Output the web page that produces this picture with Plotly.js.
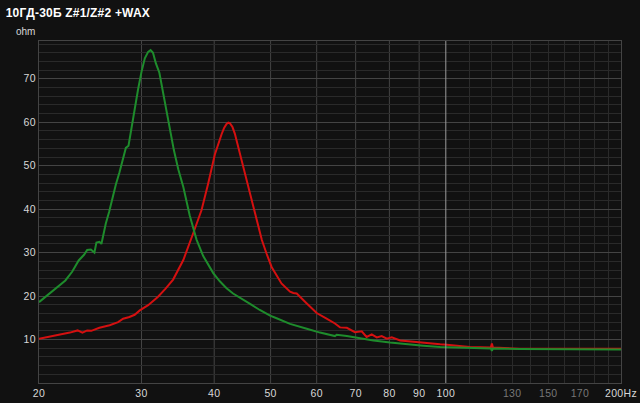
<!DOCTYPE html>
<html>
<head>
<meta charset="utf-8">
<script src="https://cdn.plot.ly/plotly-3.0.1.min.js"></script>
<style>
html,body{margin:0;padding:0;background:#111111;}
#chart{width:640px;height:403px;}
#chart .gtitle{letter-spacing:0.2px;}
#chart .xtick text, #chart .ytick text{letter-spacing:0.3px;}
</style>
</head>
<body>
<div id="chart"></div>
<script>
// Z#1 (green) impedance curve
const greenF = [20, 20.5, 21.4, 22.2, 22.8, 23.4, 23.9, 24.2, 24.55, 24.9, 25.1, 25.4, 25.6, 26.05, 26.4, 26.75, 27.1, 27.5, 28.0, 28.2, 28.5, 28.8, 29.2, 29.6, 30.0, 30.4, 30.8, 31.1, 31.4, 31.75, 32.2, 32.7, 33.1, 33.6, 34.1, 34.7, 35.4, 36.3, 37.3, 38.3, 39.85, 40.9, 42.0, 43.1, 44.6, 46.1, 47.9, 49.9, 51.2, 54.0, 57.7, 60.8, 64.5, 64.95, 67.6, 70.3, 75.1, 80.2, 85.7, 91.5, 97.8, 100.4, 110, 119.5, 120, 120.5, 134, 160, 200];
const greenZ = [18.6, 19.8, 21.7, 23.6, 25.6, 28.2, 29.5, 30.6, 30.7, 30.0, 32.3, 32.5, 32.0, 36.7, 39.4, 42.6, 45.6, 48.5, 53.0, 54.1, 54.6, 58.2, 63.6, 67.6, 71.6, 74.7, 76.2, 76.6, 76.0, 73.6, 71.4, 66.6, 62.8, 58.2, 53.6, 49.2, 45.1, 38.6, 33.0, 29.2, 25.3, 23.4, 21.8, 20.6, 19.3, 18.2, 16.8, 15.5, 14.9, 13.6, 12.5, 11.6, 10.8, 11.1, 10.8, 10.4, 9.8, 9.3, 8.9, 8.6, 8.3, 8.25, 8.05, 7.95, 7.4, 7.95, 7.8, 7.7, 7.7];

// Z#2 (red) impedance curve
const redF = [20, 21.1, 22.6, 23.3, 23.75, 24.2, 24.6, 25.4, 26.45, 27.35, 27.9, 28.6, 29.2, 29.8, 30.8, 32.0, 33.0, 34.0, 35.4, 36.8, 38.05, 39.06, 40.1, 41.2, 41.6, 42.0, 42.3, 42.55, 43.0, 43.4, 44.6, 46.1, 47.3, 48.3, 49.2, 50.2, 52.2, 54.0, 54.7, 55.45, 57.7, 60.0, 62.4, 64.5, 65.8, 67.6, 69.8, 71.7, 73.1, 74.6, 76.1, 77.6, 79.2, 80.75, 83.5, 90.3, 97.8, 100.4, 110, 119.5, 120, 120.5, 134, 160, 200];
const redZ = [10.2, 10.8, 11.6, 12.1, 11.6, 12.1, 12.0, 12.7, 13.3, 14.0, 14.8, 15.2, 15.7, 16.7, 17.9, 19.8, 21.7, 23.8, 28.3, 34.4, 39.8, 45.9, 52.6, 57.3, 58.7, 59.6, 59.9, 59.8, 58.9, 57.4, 51.3, 43.6, 37.5, 32.9, 29.8, 26.7, 22.9, 21.0, 20.7, 20.6, 18.3, 16.1, 14.8, 13.7, 12.8, 12.7, 11.7, 11.9, 10.6, 11.2, 10.5, 10.8, 10.2, 10.5, 9.8, 9.3, 8.9, 8.8, 8.3, 8.15, 9.1, 8.15, 7.9, 7.9, 7.9];

// axis ticks
const xTickVals = [20, 30, 40, 50, 60, 70, 80, 90, 100, 130, 150, 170, 200];
const xTickText = ['20', '30', '40', '50', '60', '70', '80', '90', '100',
  '<span style="fill:#777777">130</span>', '<span style="fill:#777777">150</span>',
  '<span style="fill:#777777">170</span>', '200Hz'];
const xMinorGrid = [110, 120, 130, 140, 150, 160, 170, 180, 190];
const xMajorGrid = [30, 40, 50, 60, 70, 80, 90];
const xRefLine = [100];
const yTickVals = [10, 20, 30, 40, 50, 60, 70];

const shapes = [];
xMajorGrid.forEach(v => shapes.push({type:'line', xref:'x', yref:'paper', x0:v, x1:v, y0:0, y1:1,
  line:{color:'#444444', width:1}, layer:'between'}));
xRefLine.forEach(v => shapes.push({type:'line', xref:'x', yref:'paper', x0:v, x1:v, y0:0, y1:1,
  line:{color:'#9a9a9a', width:1}, layer:'above'}));

const traces = [
  {x: redF, y: redZ, type:'scatter', mode:'lines', name:'Z#2',
   line:{color:'#d41010', width:2, shape:'linear'}, hoverinfo:'skip'},
  {x: greenF, y: greenZ, type:'scatter', mode:'lines', name:'Z#1',
   line:{color:'#1e8c2c', width:2, shape:'linear'}, hoverinfo:'skip'}
];

const layout = {
  width:640, height:403,
  paper_bgcolor:'#111111', plot_bgcolor:'#111111',
  margin:{l:39, r:19, t:41, b:20, pad:0},
  showlegend:false,
  font:{family:'Liberation Sans, Arial, sans-serif', color:'#d0d0d0', size:11},
  title:{text:'<b>10ГД-30Б Z#1/Z#2 +WAX</b>', font:{family:'Liberation Sans, Arial, sans-serif', size:12, color:'#ffffff'},
    xref:'container', yref:'container', x:0.009, xanchor:'left', y:0.967, yanchor:'middle'},
  xaxis:{type:'log', range:[Math.log10(20), Math.log10(200)], tickmode:'array',
    tickvals:xTickVals, ticktext:xTickText, showgrid:false, zeroline:false,
    showline:true, mirror:true, linecolor:'#444444', linewidth:1, ticks:'',
    tickfont:{size:10.5, color:'#d8d8d8'},
    minor:{tickmode:'array', tickvals:xMinorGrid, showgrid:true, gridcolor:'#2a2a2a', gridwidth:1, ticks:''}},
  yaxis:{range:[0, 78.7], tickmode:'array', tickvals:yTickVals, showgrid:true,
    gridcolor:'#444444', gridwidth:1, zeroline:false, showline:true, mirror:true,
    linecolor:'#444444', linewidth:1, ticks:'', tickfont:{size:10.5, color:'#d8d8d8'},
    minor:{dtick:2, tick0:0, showgrid:true, gridcolor:'#2a2a2a', gridwidth:1, ticks:''}},
  shapes: shapes,
  annotations:[{text:'ohm', xref:'paper', yref:'paper', x:0, y:1, xanchor:'right', yanchor:'bottom',
    xshift:-2, yshift:2, showarrow:false, font:{size:10, color:'#d8d8d8'}}]
};

Plotly.newPlot('chart', traces, layout, {staticPlot:true, displayModeBar:false});
</script>
</body>
</html>
